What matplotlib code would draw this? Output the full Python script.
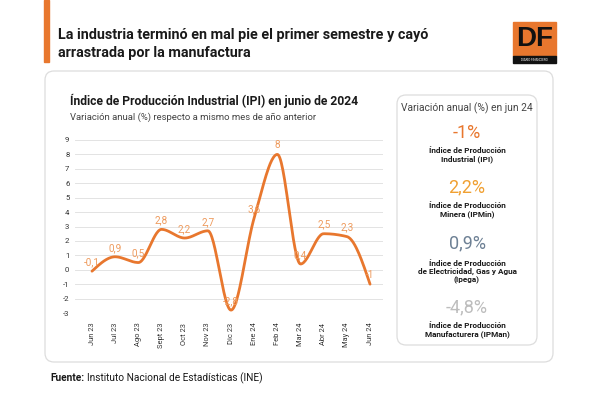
import matplotlib
matplotlib.use("Agg")
import matplotlib.pyplot as plt
from matplotlib.patches import FancyBboxPatch, Rectangle
import numpy as np

# data
months = ["Jun 23", "Jul 23", "Ago 23", "Sept 23", "Oct 23", "Nov 23", "Dic 23",
          "Ene 24", "Feb 24", "Mar 24", "Abr 24", "May 24", "Jun 24"]
ipi = [-0.1, 0.9, 0.5, 2.8, 2.2, 2.7, -2.8, 3.6, 8, 0.4, 2.5, 2.3, -1]
ipi_labels = ["-0,1", "0,9", "0,5", "2,8", "2,2", "2,7", "-2,8", "3,6", "8", "0,4", "2,5", "2,3", "-1"]
y_ticks = [-3, -2, -1, 0, 1, 2, 3, 4, 5, 6, 7, 8, 9]

panel_values = ["-1%", "2,2%", "0,9%", "-4,8%"]
panel_names = ["Índice de Producción\nIndustrial (IPI)",
               "Índice de Producción\nMinera (IPMin)",
               "Índice de Producción\nde Electricidad, Gas y Agua\n(Ipega)",
               "Índice de Producción\nManufacturera (IPMan)"]
panel_colors = ["#E8772E", "#F0A032", "#6E8195", "#BDBDBD"]

orange = "#E8772E"
label_orange = "#EE9B5E"

plt.rcParams['font.family'] = ["Roboto", "DejaVu Sans"]


def monotone(x, y, n=30):
    # d3 curveMonotoneX style smoothing, used only to draw the line
    x = np.asarray(x, float); y = np.asarray(y, float)
    h = np.diff(x); s = np.diff(y) / h
    m = np.zeros(len(x))
    for i in range(1, len(x) - 1):
        p = (s[i-1] * h[i] + s[i] * h[i-1]) / (h[i-1] + h[i])
        m[i] = (np.sign(s[i-1]) + np.sign(s[i])) * min(abs(s[i-1]), abs(s[i]), 0.5 * abs(p))
    m[0] = (3 * s[0] - m[1]) / 2
    m[-1] = (3 * s[-1] - m[-2]) / 2
    xs, ys = [], []
    for i in range(len(x) - 1):
        t = np.linspace(0, 1, n)
        h00 = 2*t**3 - 3*t**2 + 1; h10 = t**3 - 2*t**2 + t
        h01 = -2*t**3 + 3*t**2; h11 = t**3 - t**2
        xs.append(x[i] + t * h[i])
        ys.append(h00*y[i] + h10*h[i]*m[i] + h01*y[i+1] + h11*h[i]*m[i+1])
    return np.concatenate(xs), np.concatenate(ys)


W, H = 600, 394
fig = plt.figure(figsize=(6, 3.94), dpi=100)
bg = fig.add_axes([0, 0, 1, 1])
bg.set_xlim(0, W); bg.set_ylim(H, 0); bg.axis("off")

# header
bg.add_patch(Rectangle((44, 0), 5, 62, color=orange))
bg.text(58, 35, "La industria terminó en mal pie el primer semestre y cayó", fontsize=10.4,
        fontweight="bold", color="#1a1a1a", va="center")
bg.text(58, 53, "arrastrada por la manufactura", fontsize=10.4,
        fontweight="bold", color="#1a1a1a", va="center")
bg.add_patch(Rectangle((513, 22), 43, 34, color=orange))
bg.add_patch(Rectangle((513, 56), 43, 7, color="#111111"))
bg.text(534.5, 39, "DF", fontsize=20, fontweight="bold", color="#111111",
        ha="center", va="center", family="Liberation Sans")
bg.text(534.5, 59.5, "DIARIO FINANCIERO", fontsize=2.2, color="white", ha="center", va="center")

# boxes
bg.add_patch(FancyBboxPatch((45, 71), 508, 291, boxstyle="round,pad=0,rounding_size=9",
                            fc="white", ec="#DDDDDD", lw=0.9))
bg.add_patch(FancyBboxPatch((397, 95), 140, 250, boxstyle="round,pad=0,rounding_size=9",
                            fc="white", ec="#DDDDDD", lw=0.9))

bg.text(70, 101, "Índice de Producción Industrial (IPI) en junio de 2024", fontsize=8.7,
        fontweight="bold", color="#1a1a1a", va="center")
bg.text(70, 117, "Variación anual (%) respecto a mismo mes de año anterior", fontsize=6.8,
        color="#444444", va="center")

# right panel
bg.text(467, 108, "Variación anual (%) en jun 24", fontsize=7.4, color="#444444",
        ha="center", va="center")
val_y = [133, 187, 243, 307]
name_y = [155, 210, 272, 330]
for v, nm, c, vy, ny in zip(panel_values, panel_names, panel_colors, val_y, name_y):
    bg.text(467, vy, v, fontsize=13, color=c, ha="center", va="center")
    bg.text(467, ny, nm, fontsize=5.9, fontweight="bold", color="#1a1a1a",
            ha="center", va="center", linespacing=1.15)

# footer
t1 = bg.text(50, 378, "Fuente:", fontsize=7.3, fontweight="bold", color="#1a1a1a", va="center")
r = fig.canvas.get_renderer()
bb = t1.get_window_extent(r)
bg.text(bb.x1 + 3, 378, "Instituto Nacional de Estadísticas (INE)", fontsize=7.3,
        color="#1a1a1a", va="center")

# chart
x = np.arange(len(months))
left, right, top, bottom = 75, 383, 140, 313
ax = fig.add_axes([left / W, 1 - bottom / H, (right - left) / W, (bottom - top) / H])
ax.patch.set_alpha(0)
x0 = -(92 - left) / 23.17
ax.set_xlim(x0, x0 + (right - left) / 23.17)
ax.set_ylim(-3, 9)
for yt in y_ticks:
    ax.axhline(yt, color="#E3E3E3", lw=0.7, zorder=0)
for sp in ax.spines.values():
    sp.set_visible(False)
ax.set_yticks(y_ticks)
ax.set_yticklabels([str(v) for v in y_ticks], fontsize=5.6, color="#333333")
ax.tick_params(axis="y", length=0, pad=4)
ax.set_xticks(x)
ax.set_xticklabels(months, rotation=90, fontsize=5.4, color="#333333")
ax.tick_params(axis="x", length=0, pad=7)

sx, sy = monotone(x, ipi)
ax.plot(sx, sy, color=orange, lw=2, clip_on=False, solid_capstyle="round", zorder=3)
for xi, yi, lab in zip(x, ipi, ipi_labels):
    ax.annotate(lab, (xi, yi), xytext=(0, 6.5), textcoords="offset points",
                ha="center", va="center", fontsize=7.2, color=label_orange, zorder=4)

fig.savefig("out.png", dpi=100)
